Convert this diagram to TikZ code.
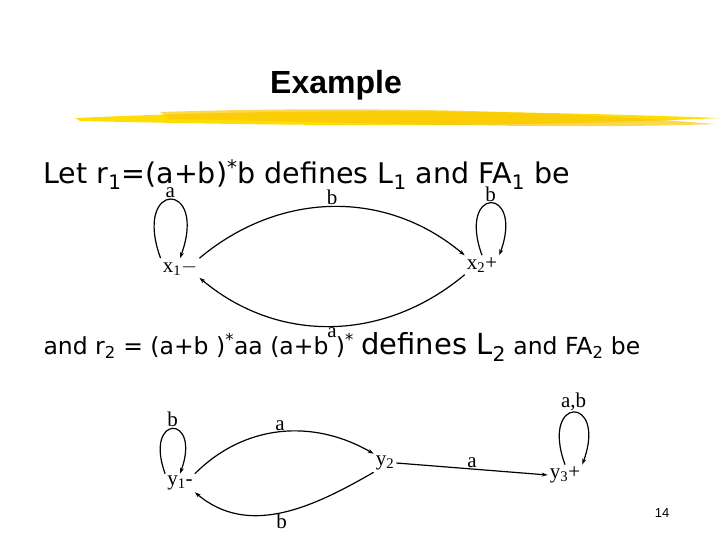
\documentclass[tikz,border=0pt]{standalone}
\usepackage{fontspec}
\setmainfont{Liberation Serif}
\newfontfamily\vsans{DejaVu Sans}
\newfontfamily\tsans{Liberation Sans}
\usetikzlibrary{arrows.meta}
\begin{document}
\begin{tikzpicture}[x=1pt,y=-1pt,
  st/.style={inner sep=2pt,font=\fontsize{21}{22}\selectfont},
  lb/.style={inner sep=1pt,font=\fontsize{21}{22}\selectfont},
  ed/.style={-{Stealth[length=6pt,width=4pt]},line width=1.2pt},
  lp/.style={ed,looseness=11}]
\useasboundingbox (0,0) rectangle (720,540);
\node[font=\tsans\bfseries\fontsize{32}{34}\selectfont] (title) at (336,85) {Example};
\fill[yellow!80!orange] (75,118) .. controls (300,108) and (500,110) .. (720,118)
  .. controls (500,128) and (300,126) .. (80,121) -- cycle;
\fill[yellow!60!orange,opacity=.7] (160,112) .. controls (350,106) and (550,110) .. (715,124)
  .. controls (550,130) and (350,122) .. (170,119) -- cycle;
\node[anchor=west,font=\vsans\fontsize{28.5}{30}\selectfont] (l1) at (40,175)
  {Let r\textsubscript{1}=(a+b)\textsuperscript{*}b defines L\textsubscript{1} and FA\textsubscript{1} be};
% FA1
\node[st] (x1) at (180,268) {x\textsubscript{1}$-$};
\node[st] (x2) at (482,265) {x\textsubscript{2}+};
\draw[lp] (x1.north west) to[out=110,in=70] node[lb,above]{a} (x1.north);
\draw[lp] (x2.north) to[out=110,in=70] node[lb,above]{b} (x2.north east);
\draw[ed] (x1.north east) to[out=40,in=140] node[lb,above]{b} (x2.north west);
\draw[ed] (x2.south west) to[out=-140,in=-40] node[lb,below]{a} (x1.south east);
\node[anchor=west,font=\vsans\fontsize{23.5}{26}\selectfont] (l2) at (40,347)
  {and r\textsubscript{2} = (a+b )\textsuperscript{*}aa (a+b )\textsuperscript{*} {\fontsize{29}{30}\selectfont defines L\textsubscript{2}} and FA\textsubscript{2} be};
% FA2
\node[st] (y1) at (180,483) {y\textsubscript{1}-};
\node[st] (y2) at (385,463) {y\textsubscript{2}};
\node[st] (y3) at (565,475) {y\textsubscript{3}+};
\draw[lp] (y1.north west) to[out=110,in=70] node[lb,above]{b} (y1.north);
\draw[lp] (y3.north) to[out=110,in=70] node[lb,above]{a,b} (y3.north east);
\draw[ed] (y1.north east) to[out=45,in=150] node[lb,above]{a} (y2.north west);
\draw[ed] (y2.south west) to[out=-150,in=-40] node[lb,below]{b} (y1.south east);
\draw[ed] (y2.east) -- node[lb,above]{a} (y3.west);
\node[font=\tsans\fontsize{13}{14}\selectfont] (pg) at (662,513) {14};
\end{tikzpicture}
\end{document}
